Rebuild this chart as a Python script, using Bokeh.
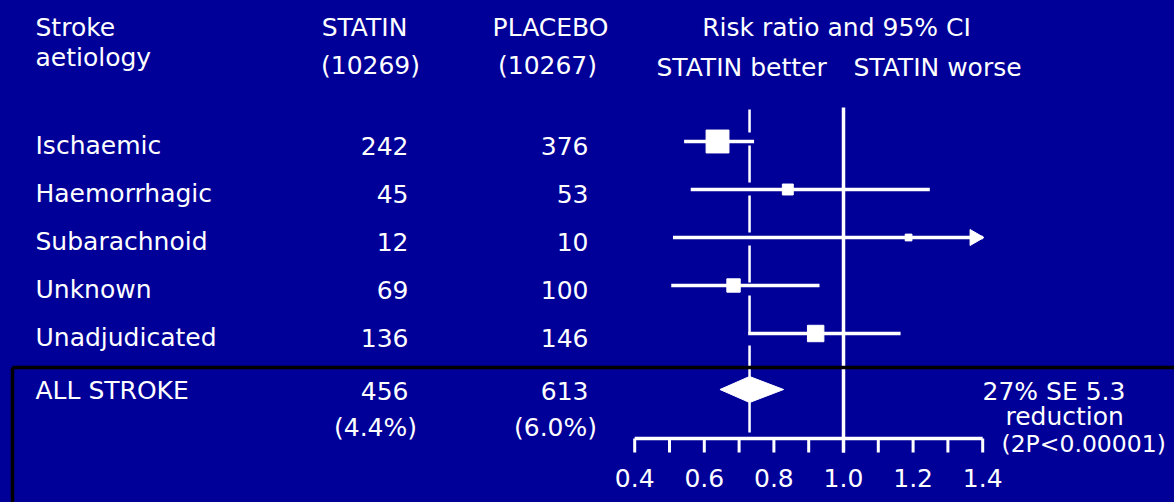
import math
from bokeh.plotting import figure
from bokeh.models import Range1d
from bokeh.core.properties import value
from bokeh.embed import file_html
from bokeh.resources import INLINE

# ---------------- data ----------------
categories = ["Ischaemic", "Haemorrhagic", "Subarachnoid", "Unknown", "Unadjudicated"]
statin_events = [242, 45, 12, 69, 136]
placebo_events = [376, 53, 10, 100, 146]
risk_ratio = [0.638, 0.840, 1.187, 0.684, 0.920]
ci_low = [0.542, 0.561, 0.510, 0.505, 0.726]
ci_high = [0.743, 1.248, 1.40, 0.931, 1.164]
ci_truncated = [False, False, True, False, False]

total_label = "ALL STROKE"
total_statin = 456
total_placebo = 613
total_statin_pct = "(4.4%)"
total_placebo_pct = "(6.0%)"
total_rr = 0.73
total_low = 0.645
total_high = 0.828

n_statin = 10269
n_placebo = 10267

major_ticks = [0.4, 0.6, 0.8, 1.0, 1.2, 1.4]
tick_labels = ["0.4", "0.6", "0.8", "1.0", "1.2", "1.4"]
minor_ticks = [0.4, 0.5, 0.6, 0.7, 0.8, 0.9, 1.0, 1.1, 1.2, 1.3, 1.4]

summary_lines = ["27% SE 5.3", "reduction", "(2P<0.00001)"]

# ---------------- layout ----------------
W, H = 1174, 502
BG = "#000099"
FG = "#ffffff"
FONT = "DejaVu Sans"
FSIZE = "25px"
PX_ONE = 843.0       # pixel of RR = 1.0
PX_PER_UNIT = 348.0  # pixels per 1.0 of RR
TEXT_DY = -10        # baseline correction


def X(px):
    return 1 + (px - PX_ONE) / PX_PER_UNIT


p = figure(width=W, height=H, x_range=Range1d(X(0), X(W)), y_range=Range1d(H, 0),
           output_backend="svg", toolbar_location=None, min_border=0,
           x_axis_type=None, y_axis_type=None,
           background_fill_color=BG, border_fill_color=BG, outline_line_color=None)
p.grid.visible = False


def txt(x_px, y, s, align="left", size=FSIZE):
    p.text(x=[X(x_px)], y=[y + TEXT_DY], text=[s], text_color=FG, text_font=value(FONT),
           text_font_size=size, text_align=align, text_baseline="alphabetic")


# headers
txt(35, 37, "Stroke")
txt(35, 67, "aetiology")
txt(364, 37, "STATIN", "center")
txt(370, 75, f"({n_statin})", "center")
txt(550, 37, "PLACEBO", "center")
txt(547, 75, f"({n_placebo})", "center")
txt(836, 37, "Risk ratio and 95% CI", "center")
txt(656, 77, "STATIN better")
txt(853, 77, "STATIN worse")

# rows
row_y = [141 + 48 * i for i in range(len(categories))]
for i, cat in enumerate(categories):
    y = row_y[i]
    txt(35, y + 14, cat)
    txt(408, y + 14, str(statin_events[i]), "right")
    txt(588, y + 14, str(placebo_events[i]), "right")

# reference lines
axis_y = 438
p.segment(x0=[1.0], y0=[107], x1=[1.0], y1=[axis_y + 14], line_color=FG, line_width=3.5)
p.segment(x0=[total_rr], y0=[109], x1=[total_rr], y1=[axis_y], line_color=FG, line_width=2.5,
          line_dash="37 13", line_dash_offset=14)

# confidence intervals
p.segment(x0=ci_low, y0=row_y, x1=ci_high, y1=row_y, line_color=FG, line_width=3.5)
sizes = [0.8 * math.sqrt(a + b) + 3 for a, b in zip(statin_events, placebo_events)]
p.scatter(x=risk_ratio, y=row_y, marker="square", size=sizes, fill_color=FG, line_color=FG)
arrow_x = [h - 8 / PX_PER_UNIT for h, t in zip(ci_high, ci_truncated) if t]
arrow_y = [y for y, t in zip(row_y, ci_truncated) if t]
p.scatter(x=arrow_x, y=arrow_y, marker="triangle", angle=-math.pi / 2, size=16,
          fill_color=FG, line_color=FG)

# overall diamond
dy = 389
p.patch(x=[total_low, total_rr, total_high, total_rr], y=[dy, dy - 13, dy, dy + 13],
        fill_color=FG, line_color=FG)

# axis
p.segment(x0=[minor_ticks[0]], y0=[axis_y], x1=[minor_ticks[-1]], y1=[axis_y],
          line_color=FG, line_width=3.5)
p.segment(x0=minor_ticks, y0=[axis_y] * len(minor_ticks), x1=minor_ticks,
          y1=[axis_y + 14] * len(minor_ticks), line_color=FG, line_width=3)
p.text(x=major_ticks, y=[487 + TEXT_DY] * len(major_ticks), text=tick_labels, text_color=FG,
       text_font=value(FONT), text_font_size=FSIZE, text_align="center",
       text_baseline="alphabetic")

# total row
txt(35, 400, total_label)
txt(408, 400, str(total_statin), "right")
txt(588, 400, str(total_placebo), "right")
txt(375, 437, total_statin_pct, "center")
txt(555, 437, total_placebo_pct, "center")
txt(982, 401, summary_lines[0])
txt(1005, 426, summary_lines[1])
txt(1001, 453, summary_lines[2], size="23.5px")

# black frame around the overall row
p.segment(x0=[X(12), X(12)], y0=[367, 367], x1=[X(12), X(W + 5)], y1=[H + 5, 367],
          line_color="#000000", line_width=3.5)

html = file_html(p, INLINE, title="Stroke aetiology forest plot")
html = html.replace("<head>", "<head><style>html,body{margin:0;padding:0;background:%s;overflow:hidden}</style>" % BG, 1)
open("out.html", "w").write(html)
